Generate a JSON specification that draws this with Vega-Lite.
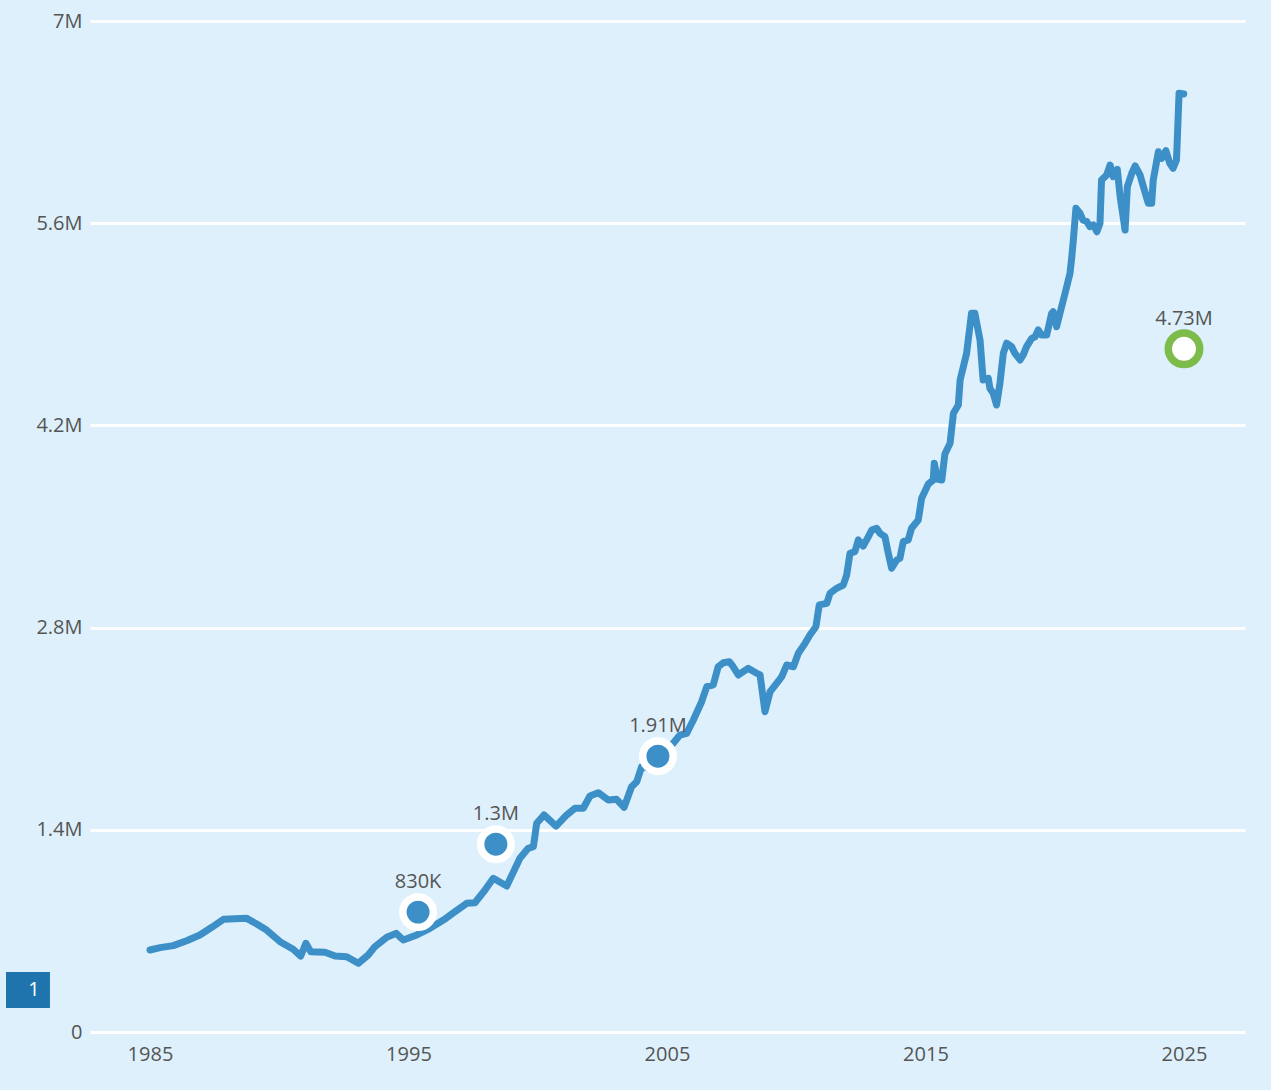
{
  "$schema": "https://vega.github.io/schema/vega-lite/v6.json",
  "width": 1155,
  "height": 1011,
  "autosize": {"type": "none"},
  "padding": {"left": 90, "top": 21, "right": 26, "bottom": 58},
  "background": "#def0fb",
  "config": {
    "view": {"stroke": null},
    "font": "Open Sans",
    "mark": {"clip": false},
    "axis": {
      "labelFont": "Open Sans",
      "labelFontSize": 20,
      "labelColor": "#555555",
      "domain": false,
      "ticks": false,
      "title": null
    }
  },
  "datasets": {
    "series": [
      {"year": 1985.00, "value": 568000}, {"year": 1985.39, "value": 584000}, {"year": 1985.90, "value": 598000},
      {"year": 1986.42, "value": 632000}, {"year": 1986.93, "value": 672000}, {"year": 1987.39, "value": 725000},
      {"year": 1987.84, "value": 780000}, {"year": 1988.74, "value": 787000}, {"year": 1989.13, "value": 748000},
      {"year": 1989.51, "value": 706000}, {"year": 1990.03, "value": 625000}, {"year": 1990.54, "value": 573000},
      {"year": 1990.83, "value": 526000}, {"year": 1991.03, "value": 614000}, {"year": 1991.22, "value": 556000},
      {"year": 1991.77, "value": 552000}, {"year": 1992.16, "value": 526000}, {"year": 1992.61, "value": 521000},
      {"year": 1993.06, "value": 476000}, {"year": 1993.44, "value": 533000}, {"year": 1993.70, "value": 591000},
      {"year": 1994.16, "value": 656000}, {"year": 1994.52, "value": 683000}, {"year": 1994.80, "value": 637000},
      {"year": 1995.32, "value": 672000}, {"year": 1995.83, "value": 718000}, {"year": 1996.35, "value": 775000},
      {"year": 1996.80, "value": 833000}, {"year": 1997.25, "value": 891000}, {"year": 1997.57, "value": 895000},
      {"year": 1997.96, "value": 983000}, {"year": 1998.28, "value": 1064000}, {"year": 1998.80, "value": 1011000},
      {"year": 1999.31, "value": 1203000}, {"year": 1999.63, "value": 1272000}, {"year": 1999.83, "value": 1283000},
      {"year": 1999.96, "value": 1445000}, {"year": 2000.24, "value": 1503000}, {"year": 2000.71, "value": 1426000},
      {"year": 2001.12, "value": 1503000}, {"year": 2001.44, "value": 1549000}, {"year": 2001.76, "value": 1549000},
      {"year": 2002.02, "value": 1634000}, {"year": 2002.34, "value": 1657000}, {"year": 2002.73, "value": 1606000},
      {"year": 2003.05, "value": 1611000}, {"year": 2003.34, "value": 1556000}, {"year": 2003.63, "value": 1698000},
      {"year": 2003.83, "value": 1733000}, {"year": 2004.02, "value": 1837000}, {"year": 2004.34, "value": 1826000},
      {"year": 2004.60, "value": 1872000}, {"year": 2004.92, "value": 1939000}, {"year": 2005.24, "value": 1999000},
      {"year": 2005.50, "value": 2056000}, {"year": 2005.76, "value": 2068000}, {"year": 2006.02, "value": 2160000},
      {"year": 2006.34, "value": 2287000}, {"year": 2006.54, "value": 2391000}, {"year": 2006.79, "value": 2403000},
      {"year": 2006.98, "value": 2529000}, {"year": 2007.18, "value": 2557000}, {"year": 2007.41, "value": 2564000},
      {"year": 2007.56, "value": 2529000}, {"year": 2007.76, "value": 2472000}, {"year": 2008.14, "value": 2518000},
      {"year": 2008.47, "value": 2484000}, {"year": 2008.60, "value": 2472000}, {"year": 2008.79, "value": 2218000},
      {"year": 2008.99, "value": 2356000}, {"year": 2009.24, "value": 2414000}, {"year": 2009.44, "value": 2460000},
      {"year": 2009.63, "value": 2541000}, {"year": 2009.89, "value": 2529000}, {"year": 2010.08, "value": 2622000},
      {"year": 2010.34, "value": 2691000}, {"year": 2010.53, "value": 2749000}, {"year": 2010.76, "value": 2806000},
      {"year": 2010.89, "value": 2957000}, {"year": 2011.18, "value": 2968000}, {"year": 2011.31, "value": 3038000},
      {"year": 2011.56, "value": 3072000}, {"year": 2011.82, "value": 3095000}, {"year": 2011.95, "value": 3164000},
      {"year": 2012.08, "value": 3315000}, {"year": 2012.27, "value": 3326000}, {"year": 2012.40, "value": 3407000},
      {"year": 2012.59, "value": 3365000}, {"year": 2012.79, "value": 3430000}, {"year": 2012.92, "value": 3476000},
      {"year": 2013.11, "value": 3488000}, {"year": 2013.24, "value": 3453000}, {"year": 2013.43, "value": 3430000},
      {"year": 2013.56, "value": 3315000}, {"year": 2013.69, "value": 3211000}, {"year": 2013.89, "value": 3268000},
      {"year": 2014.01, "value": 3280000}, {"year": 2014.14, "value": 3395000}, {"year": 2014.33, "value": 3407000},
      {"year": 2014.46, "value": 3488000}, {"year": 2014.72, "value": 3545000}, {"year": 2014.85, "value": 3695000},
      {"year": 2015.11, "value": 3794000}, {"year": 2015.30, "value": 3822000}, {"year": 2015.34, "value": 3938000},
      {"year": 2015.46, "value": 3829000}, {"year": 2015.63, "value": 3822000}, {"year": 2015.75, "value": 4002000},
      {"year": 2015.95, "value": 4076000}, {"year": 2016.08, "value": 4284000}, {"year": 2016.27, "value": 4341000},
      {"year": 2016.34, "value": 4514000}, {"year": 2016.59, "value": 4699000}, {"year": 2016.78, "value": 4976000},
      {"year": 2016.91, "value": 4976000}, {"year": 2017.11, "value": 4791000}, {"year": 2017.23, "value": 4514000},
      {"year": 2017.43, "value": 4526000}, {"year": 2017.49, "value": 4457000}, {"year": 2017.62, "value": 4422000},
      {"year": 2017.75, "value": 4341000}, {"year": 2017.88, "value": 4492000}, {"year": 2018.01, "value": 4699000},
      {"year": 2018.14, "value": 4769000}, {"year": 2018.33, "value": 4745000}, {"year": 2018.46, "value": 4699000},
      {"year": 2018.66, "value": 4653000}, {"year": 2018.78, "value": 4688000}, {"year": 2018.91, "value": 4745000},
      {"year": 2019.11, "value": 4803000}, {"year": 2019.24, "value": 4814000}, {"year": 2019.36, "value": 4861000},
      {"year": 2019.49, "value": 4826000}, {"year": 2019.69, "value": 4826000}, {"year": 2019.88, "value": 4976000},
      {"year": 2019.94, "value": 4987000}, {"year": 2020.07, "value": 4883000}, {"year": 2020.20, "value": 4976000},
      {"year": 2020.40, "value": 5115000}, {"year": 2020.59, "value": 5253000}, {"year": 2020.66, "value": 5368000},
      {"year": 2020.72, "value": 5484000}, {"year": 2020.82, "value": 5703000}, {"year": 2020.98, "value": 5669000},
      {"year": 2021.09, "value": 5622000}, {"year": 2021.24, "value": 5611000}, {"year": 2021.36, "value": 5576000},
      {"year": 2021.49, "value": 5588000}, {"year": 2021.63, "value": 5541000}, {"year": 2021.75, "value": 5599000},
      {"year": 2021.81, "value": 5899000}, {"year": 2022.01, "value": 5934000}, {"year": 2022.14, "value": 6003000},
      {"year": 2022.26, "value": 5922000}, {"year": 2022.42, "value": 5973000}, {"year": 2022.53, "value": 5784000},
      {"year": 2022.72, "value": 5553000}, {"year": 2022.81, "value": 5853000}, {"year": 2022.98, "value": 5946000},
      {"year": 2023.11, "value": 5996000}, {"year": 2023.30, "value": 5934000}, {"year": 2023.43, "value": 5853000},
      {"year": 2023.62, "value": 5738000}, {"year": 2023.75, "value": 5738000}, {"year": 2023.81, "value": 5899000},
      {"year": 2024.01, "value": 6095000}, {"year": 2024.14, "value": 6049000}, {"year": 2024.30, "value": 6102000},
      {"year": 2024.45, "value": 6015000}, {"year": 2024.58, "value": 5980000}, {"year": 2024.71, "value": 6038000},
      {"year": 2024.81, "value": 6500000}, {"year": 2024.99, "value": 6495000}
    ],
    "annotations": [
      {"year": 1995.37, "value": 830000, "label": "830K", "kind": "history"},
      {"year": 1998.38, "value": 1300000, "label": "1.3M", "kind": "history"},
      {"year": 2004.65, "value": 1910000, "label": "1.91M", "kind": "history"},
      {"year": 2025.0, "value": 4730000, "label": "4.73M", "kind": "target"}
    ],
    "badge": [
      {"label": "1"}
    ]
  },
  "layer": [
    {
      "data": {"name": "series"},
      "mark": {"type": "line", "color": "#3d8fc8", "strokeWidth": 7, "strokeCap": "round", "strokeJoin": "round"},
      "encoding": {
        "x": {
          "field": "year",
          "type": "quantitative",
          "scale": {"domain": [1982.679, 2027.36], "nice": false, "zero": false},
          "axis": {"values": [1985, 1995, 2005, 2015, 2025], "format": "d", "grid": false, "labelPadding": 12}
        },
        "y": {
          "field": "value",
          "type": "quantitative",
          "scale": {"domain": [0, 7000000], "nice": false},
          "axis": {
            "values": [0, 1400000, 2800000, 4200000, 5600000, 7000000],
            "labelExpr": "datum.value === 0 ? '0' : format(datum.value / 1000000, '.1~f') + 'M'",
            "grid": true,
            "gridColor": "#ffffff",
            "gridWidth": 3,
            "gridOpacity": 1,
            "labelPadding": 8
          }
        }
      }
    },
    {
      "data": {"name": "annotations"},
      "transform": [{"filter": "datum.kind === 'history'"}],
      "mark": {"type": "point", "shape": "circle", "filled": true, "fill": "#3d8fc8", "stroke": "#ffffff", "strokeWidth": 7.5, "size": 930, "opacity": 1, "strokeOpacity": 1, "fillOpacity": 1},
      "encoding": {
        "x": {"field": "year", "type": "quantitative"},
        "y": {"field": "value", "type": "quantitative"}
      }
    },
    {
      "data": {"name": "annotations"},
      "transform": [{"filter": "datum.kind === 'target'"}],
      "mark": {"type": "point", "shape": "circle", "filled": true, "fill": "#ffffff", "stroke": "#7dbc4a", "strokeWidth": 7.5, "size": 990, "opacity": 1, "strokeOpacity": 1, "fillOpacity": 1},
      "encoding": {
        "x": {"field": "year", "type": "quantitative"},
        "y": {"field": "value", "type": "quantitative"}
      }
    },
    {
      "data": {"name": "annotations"},
      "mark": {"type": "text", "font": "Open Sans", "fontSize": 20, "color": "#555555", "dy": -30, "baseline": "middle", "align": "center"},
      "encoding": {
        "x": {"field": "year", "type": "quantitative"},
        "y": {"field": "value", "type": "quantitative"},
        "text": {"field": "label"}
      }
    },
    {
      "data": {"name": "badge"},
      "mark": {"type": "rect", "color": "#1f74ad", "clip": false},
      "encoding": {
        "x": {"datum": 1979.43, "type": "quantitative"},
        "x2": {"datum": 1981.13},
        "y": {"datum": 415400, "type": "quantitative"},
        "y2": {"datum": 166200}
      }
    },
    {
      "data": {"name": "badge"},
      "mark": {"type": "text", "color": "#ffffff", "font": "Open Sans", "fontSize": 20, "baseline": "middle", "align": "center", "clip": false},
      "encoding": {
        "x": {"datum": 1980.51, "type": "quantitative"},
        "y": {"datum": 290800, "type": "quantitative"},
        "text": {"field": "label"}
      }
    }
  ]
}
